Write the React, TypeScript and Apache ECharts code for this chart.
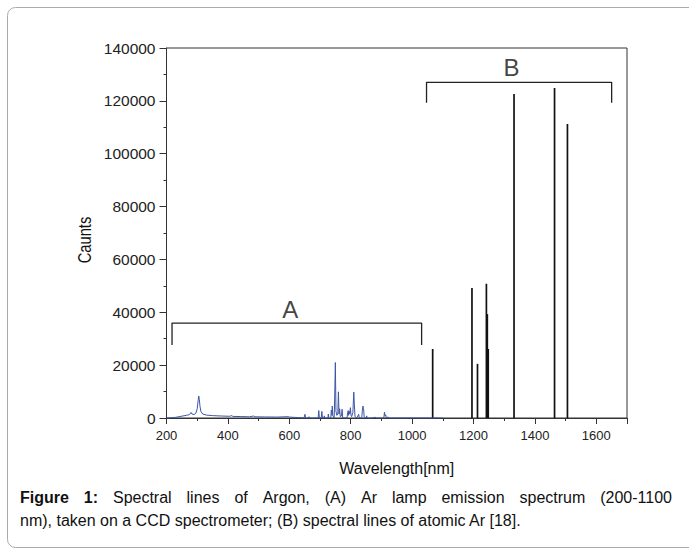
import React, { useEffect, useRef } from "react";
import * as echarts from "echarts";

// Blue CCD spectrum (A): [wavelength nm, counts]
const spectrumA: [number, number][] = [
  [200, 0], [215, 100], [230, 250], [250, 700], [265, 1000], [275, 1300], [280, 2100], [283, 1500],
  [290, 1300], [296, 1900], [300, 3500], [303, 6500], [305, 8300], [307, 7000], [309, 4500], [312, 2500],
  [318, 1500], [330, 1100], [350, 900], [380, 750], [405, 650], [413, 900], [416, 600], [440, 550],
  [470, 450], [484, 750], [488, 450], [520, 400], [560, 350], [596, 500], [600, 350], [630, 150],
  [648, 50], [650, 0], [651, 1400], [653, 0], [660, 0], [664, 500], [666, 0], [694, 0], [696, 2800],
  [698, 0], [704, 0], [706, 2500], [708, 0], [713, 0], [714, 800], [716, 0], [726, 0], [727, 1500],
  [729, 0], [735, 0], [737, 3000], [739, 1000], [740, 4500], [742, 800], [746, 0], [747, 3000],
  [750, 21000], [752, 2500], [755, 1000], [758, 1500], [760, 9900], [762, 1500], [764, 3500],
  [766, 500], [770, 800], [772, 3300], [774, 0], [788, 0], [790, 2000], [792, 2800], [793, 1000],
  [795, 2600], [797, 1500], [799, 3900], [801, 1000], [803, 500], [807, 2000], [810, 9800],
  [812, 5000], [814, 500], [820, 0], [826, 1400], [828, 0], [836, 0], [838, 3000], [840, 4500],
  [842, 3500], [844, 200], [850, 0], [852, 800], [854, 0], [870, 0], [880, 300], [882, 0], [908, 0],
  [910, 2200], [912, 800], [914, 1200], [916, 0], [922, 400], [924, 0], [1100, 0],
];

// Atomic Ar lines (B)
const linesWavelength = [1067, 1195, 1213, 1242, 1245, 1248, 1332, 1464, 1506];
const linesCounts = [26100, 49200, 20500, 50800, 39300, 26100, 122600, 124900, 111200];

// Brackets
const bracketA: [number, number][] = [[218, 27600], [218, 35900], [1031, 35900], [1031, 27600]];
const bracketB: [number, number][] = [[1047, 119300], [1047, 127000], [1650, 127000], [1650, 119300]];
const bracketLabels: { name: string; value: [number, number] }[] = [
  { name: "A", value: [603, 40900] },
  { name: "B", value: [1324, 132800] },
];

const xTicks = { min: 200, max: 1700, interval: 200 };
const yTicks = { min: 0, max: 140000, interval: 20000 };

const captionBoldWords = ["Figure", "1:"];
const captionLine1Words = ["Spectral", "lines", "of", "Argon,", "(A)", "Ar", "lamp", "emission", "spectrum", "(200-1100"];
const captionLine2 = "nm), taken on a CCD spectrometer; (B) spectral lines of atomic Ar [18].";

const FONT = "Arial, 'Liberation Sans', sans-serif";

function buildCaption(): any[] {
  const canvas = document.createElement("canvas");
  const ctx = canvas.getContext("2d")!;
  const words = [
    ...captionBoldWords.map((w) => ({ w, bold: true })),
    ...captionLine1Words.map((w) => ({ w, bold: false })),
  ];
  const widths = words.map(({ w, bold }) => {
    ctx.font = `${bold ? "bold " : ""}16px ${FONT}`;
    return ctx.measureText(w).width;
  });
  const left = 20;
  const right = 672;
  const total = widths.reduce((a, b) => a + b, 0);
  const gap = (right - left - total) / (words.length - 1);
  const els: any[] = [];
  let x = left;
  words.forEach(({ w, bold }, i) => {
    els.push({
      type: "text",
      x,
      y: 497.5,
      style: {
        text: w,
        font: `${bold ? "bold " : ""}16px ${FONT}`,
        fill: "#111",
        textVerticalAlign: "middle",
        verticalAlign: "middle",
      },
    });
    x += widths[i] + gap;
  });
  els.push({
    type: "text",
    x: left,
    y: 520.5,
    style: {
      text: captionLine2,
      font: `16px ${FONT}`,
      fill: "#111",
      textVerticalAlign: "middle",
      verticalAlign: "middle",
    },
  });
  return els;
}

export default function App() {
  const ref = useRef<HTMLDivElement>(null);
  useEffect(() => {
    if (!ref.current) return;
    const chart = echarts.init(ref.current, undefined, { renderer: "svg" });
    const axisColor = "#333";
    chart.setOption({
      animation: false,
      backgroundColor: "#fff",
      textStyle: { fontFamily: FONT },
      grid: {
        left: 166.5,
        top: 48,
        right: 62,
        bottom: 130,
        show: true,
        borderColor: axisColor,
        borderWidth: 1,
        backgroundColor: "transparent",
      },
      xAxis: {
        type: "value",
        min: xTicks.min,
        max: xTicks.max,
        interval: xTicks.interval,
        name: "Wavelength[nm]",
        nameLocation: "middle",
        nameGap: 42,
        nameTextStyle: { fontSize: 16, color: "#111", fontFamily: FONT },
        axisLine: { show: true, lineStyle: { color: axisColor, width: 1 } },
        axisTick: { show: true, length: 6, lineStyle: { color: axisColor } },
        minorTick: { show: true, splitNumber: 2, length: 3, lineStyle: { color: axisColor } },
        splitLine: { show: false },
        axisLabel: {
          fontSize: 13,
          color: "#222",
          margin: 11,
          showMaxLabel: false,
          formatter: (v: number) => (v === 1700 ? "" : String(v)),
        },
      },
      yAxis: {
        type: "value",
        min: yTicks.min,
        max: yTicks.max,
        interval: yTicks.interval,
        axisLine: { show: true, lineStyle: { color: axisColor, width: 1 } },
        axisTick: { show: true, length: 7, lineStyle: { color: axisColor } },
        minorTick: { show: true, splitNumber: 2, length: 3, lineStyle: { color: axisColor } },
        splitLine: { show: false },
        axisLabel: {
          fontSize: 15.5,
          color: "#222",
          margin: 11,
          formatter: (v: number) => String(v),
        },
      },
      series: [
        {
          type: "line",
          data: spectrumA,
          showSymbol: false,
          symbol: "none",
          lineStyle: { color: "#3d57a5", width: 1 },
          z: 3,
        },
        {
          type: "bar",
          data: linesWavelength.map((w, i) => [w, linesCounts[i]]),
          barWidth: 1.7,
          itemStyle: { color: "#111" },
          z: 2,
        },
        {
          type: "line",
          data: bracketA,
          symbol: "none",
          lineStyle: { color: "#222", width: 1.3 },
        },
        {
          type: "line",
          data: bracketB,
          symbol: "none",
          lineStyle: { color: "#222", width: 1.3 },
        },
        {
          type: "scatter",
          data: bracketLabels,
          symbolSize: 0,
          label: {
            show: true,
            position: "inside",
            formatter: (p: any) => p.name,
            fontSize: 24,
            color: "#111",
            fontFamily: FONT,
          },
        },
      ],
      graphic: [
        {
          type: "rect",
          shape: { x: 7.5, y: 7.5, width: 720, height: 540, r: 8 },
          style: { fill: "none", stroke: "#aaa", lineWidth: 1 },
          silent: true,
        },
        {
          type: "text",
          x: 85,
          y: 240,
          rotation: Math.PI / 2,
          scaleX: 0.92,
          scaleY: 1.2,
          style: {
            text: "Caunts",
            font: `16px ${FONT}`,
            fill: "#111",
            textAlign: "center",
            textVerticalAlign: "middle",
            align: "center",
            verticalAlign: "middle",
          },
        },
        ...buildCaption(),
      ],
    });
    return () => chart.dispose();
  }, []);
  return (
    <div
      ref={ref}
      style={{ position: "fixed", left: 0, top: 0, width: 689, height: 548, background: "#fff" }}
    />
  );
}
